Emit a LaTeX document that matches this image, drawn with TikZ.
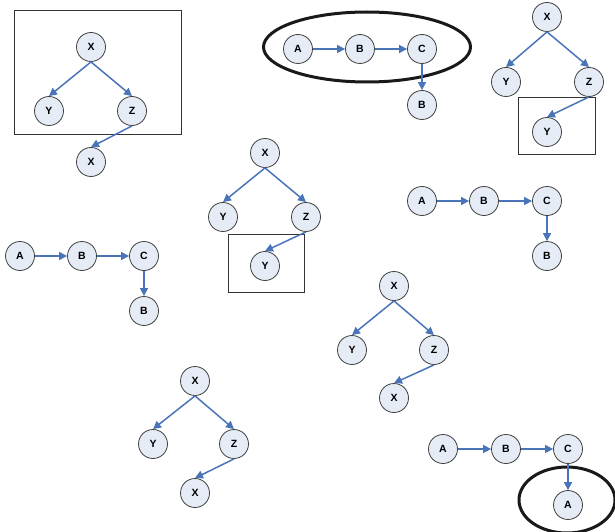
\documentclass[tikz,border=0pt]{standalone}
\usepackage{fontspec}
\setmainfont{Liberation Sans}
\usetikzlibrary{arrows.meta}
\definecolor{nodefill}{HTML}{E6ECF6}
\definecolor{nodeline}{HTML}{404040}
\definecolor{arrowblue}{HTML}{4A74B8}
\tikzset{
  vnode/.style={circle, draw=nodeline, fill=nodefill, line width=0.8pt, minimum size=29pt, inner sep=0pt, font=\fontsize{10.5pt}{12pt}\selectfont\bfseries},
  edge/.style={draw=arrowblue, line width=1.5pt, -{Triangle[length=8pt,width=8pt]}},
  framebox/.style={draw=black!80, line width=0.8pt},
  ring/.style={draw=black!90, line width=3pt}
}
\begin{document}
\begin{tikzpicture}[x=1pt,y=-1pt]
\useasboundingbox (0,0) rectangle (615,532);
% group 1
\draw[framebox] (14,10) rectangle (181,134);
\node[vnode] (g1x) at (91,47) {X};
\node[vnode] (g1y) at (49,111) {Y};
\node[vnode] (g1z) at (132,111) {Z};
\node[vnode] (g1x2) at (91,162) {X};
\draw[edge] (g1x.south) -- (g1y.north);
\draw[edge] (g1x.south) -- (g1z.north);
\draw[edge] (g1z.south) -- (g1x2.north);
% group 2
\draw[ring] (367,47) ellipse [x radius=103.5, y radius=35];
\node[vnode] (g2a) at (298,49) {A};
\node[vnode] (g2b) at (360,49) {B};
\node[vnode] (g2c) at (422,49) {C};
\node[vnode] (g2b2) at (422,105) {B};
\draw[edge] (g2a.east) -- (g2b.west);
\draw[edge] (g2b.east) -- (g2c.west);
\draw[edge] (g2c.south) -- (g2b2.north);
% group 3
\draw[framebox] (518,97) rectangle (595,154);
\node[vnode] (g3x) at (547,17) {X};
\node[vnode] (g3y) at (506,82) {Y};
\node[vnode] (g3z) at (589,82) {Z};
\node[vnode] (g3y2) at (547,132) {Y};
\draw[edge] (g3x.south) -- (g3y.north);
\draw[edge] (g3x.south) -- (g3z.north);
\draw[edge] (g3z.south) -- (g3y2.north);
% group 4
\draw[framebox] (228,234) rectangle (304,292);
\node[vnode] (g4x) at (265,153) {X};
\node[vnode] (g4y) at (223,217) {Y};
\node[vnode] (g4z) at (306,217) {Z};
\node[vnode] (g4y2) at (265,266) {Y};
\draw[edge] (g4x.south) -- (g4y.north);
\draw[edge] (g4x.south) -- (g4z.north);
\draw[edge] (g4z.south) -- (g4y2.north);
% group 5
\node[vnode] (g5a) at (422,201) {A};
\node[vnode] (g5b) at (484,201) {B};
\node[vnode] (g5c) at (547,201) {C};
\node[vnode] (g5b2) at (547,256) {B};
\draw[edge] (g5a.east) -- (g5b.west);
\draw[edge] (g5b.east) -- (g5c.west);
\draw[edge] (g5c.south) -- (g5b2.north);
% group 6
\node[vnode] (g6a) at (20,256) {A};
\node[vnode] (g6b) at (82,256) {B};
\node[vnode] (g6c) at (144,256) {C};
\node[vnode] (g6b2) at (144,311) {B};
\draw[edge] (g6a.east) -- (g6b.west);
\draw[edge] (g6b.east) -- (g6c.west);
\draw[edge] (g6c.south) -- (g6b2.north);
% group 7
\node[vnode] (g7x) at (394,286) {X};
\node[vnode] (g7y) at (352,350) {Y};
\node[vnode] (g7z) at (434,350) {Z};
\node[vnode] (g7x2) at (394,398) {X};
\draw[edge] (g7x.south) -- (g7y.north);
\draw[edge] (g7x.south) -- (g7z.north);
\draw[edge] (g7z.south) -- (g7x2.north);
% group 8
\node[vnode] (g8x) at (195,381) {X};
\node[vnode] (g8y) at (153,444) {Y};
\node[vnode] (g8z) at (234,444) {Z};
\node[vnode] (g8x2) at (195,493) {X};
\draw[edge] (g8x.south) -- (g8y.north);
\draw[edge] (g8x.south) -- (g8z.north);
\draw[edge] (g8z.south) -- (g8x2.north);
% group 9
\draw[ring] (567,500) ellipse [x radius=48, y radius=33];
\node[vnode] (g9a) at (443,449) {A};
\node[vnode] (g9b) at (506,449) {B};
\node[vnode] (g9c) at (568,449) {C};
\node[vnode] (g9a2) at (568,505) {A};
\draw[edge] (g9a.east) -- (g9b.west);
\draw[edge] (g9b.east) -- (g9c.west);
\draw[edge] (g9c.south) -- (g9a2.north);
\end{tikzpicture}
\end{document}
